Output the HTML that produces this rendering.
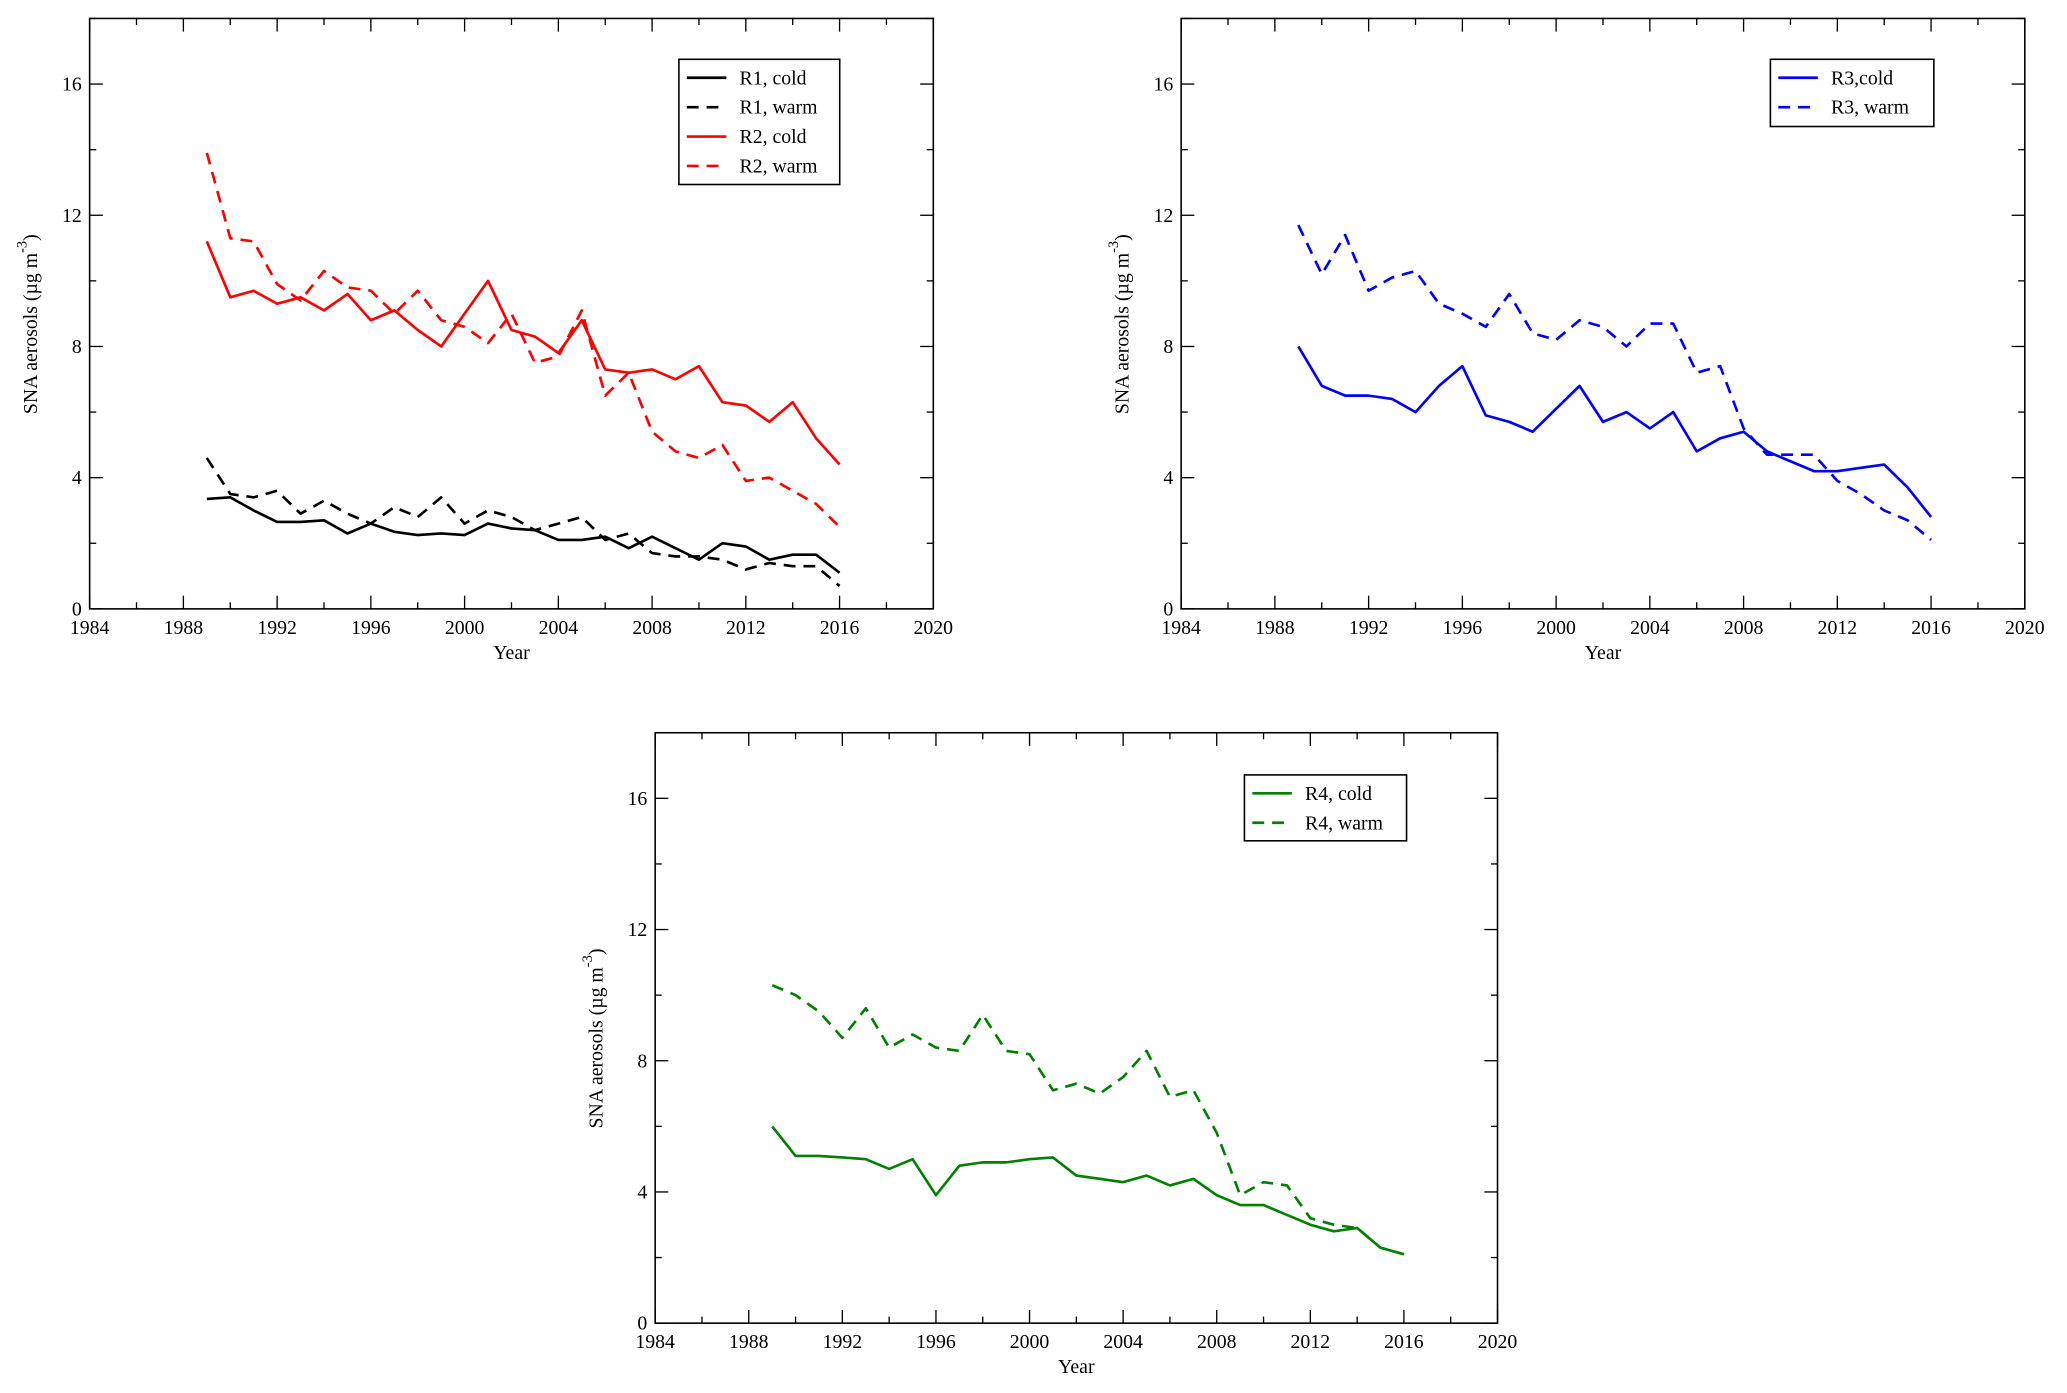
<!DOCTYPE html>
<html><head><meta charset="utf-8">
<style>
html,body{margin:0;padding:0;background:#fff;}
svg{display:block;}
text{font-family:"Liberation Serif",serif;}
</style></head>
<body>
<svg id="chart" width="2067" height="1393" viewBox="0 0 1568 1057" preserveAspectRatio="none" xmlns="http://www.w3.org/2000/svg"></svg>
<script>
const years = [1989,1990,1991,1992,1993,1994,1995,1996,1997,1998,1999,2000,2001,2002,2003,2004,2005,2006,2007,2008,2009,2010,2011,2012,2013,2014,2015,2016];
const r1Cold = [3.35,3.4,3.0,2.65,2.65,2.7,2.3,2.6,2.35,2.25,2.3,2.25,2.6,2.45,2.4,2.1,2.1,2.2,1.85,2.2,1.85,1.5,2.0,1.9,1.5,1.65,1.65,1.1];
const r1Warm = [4.6,3.5,3.4,3.6,2.9,3.3,2.9,2.6,3.1,2.8,3.4,2.6,3.0,2.8,2.4,2.6,2.8,2.1,2.3,1.7,1.6,1.6,1.5,1.2,1.4,1.3,1.3,0.7];
const r2Cold = [11.2,9.5,9.7,9.3,9.5,9.1,9.6,8.8,9.1,8.5,8.0,9.0,10.0,8.5,8.3,7.8,8.8,7.3,7.2,7.3,7.0,7.4,6.3,6.2,5.7,6.3,5.2,4.4];
const r2Warm = [13.9,11.3,11.2,9.9,9.4,10.3,9.8,9.7,9.0,9.7,8.8,8.6,8.1,9.0,7.5,7.7,9.1,6.5,7.2,5.4,4.8,4.6,5.0,3.9,4.0,3.6,3.2,2.5];
const r3Cold = [8.0,6.8,6.5,6.5,6.4,6.0,6.8,7.4,5.9,5.7,5.4,6.1,6.8,5.7,6.0,5.5,6.0,4.8,5.2,5.4,4.8,4.5,4.2,4.2,4.3,4.4,3.7,2.8];
const r3Warm = [11.7,10.2,11.4,9.7,10.1,10.3,9.3,9.0,8.6,9.6,8.4,8.2,8.8,8.6,8.0,8.7,8.7,7.2,7.4,5.5,4.7,4.7,4.7,3.9,3.5,3.0,2.7,2.1];
const r4Cold = [6.0,5.1,5.1,5.05,5.0,4.7,5.0,3.9,4.8,4.9,4.9,5.0,5.05,4.5,4.4,4.3,4.5,4.2,4.4,3.9,3.6,3.6,3.3,3.0,2.8,2.9,2.3,2.1];
const r4Warm = [10.3,10.0,9.5,8.7,9.6,8.4,8.8,8.4,8.3,9.4,8.3,8.2,7.1,7.3,7.0,7.5,8.3,6.9,7.1,5.8,3.9,4.3,4.2,3.2,3.0,2.9,2.3,2.1];
const xTicks = [1984,1988,1992,1996,2000,2004,2008,2012,2016,2020];
const yTicks = [0,4,8,12,16];

const NS = "http://www.w3.org/2000/svg";
const svg = document.getElementById('chart');
function mk(tag, attrs, parent){
  const e = document.createElementNS(NS, tag);
  for (const k in attrs) e.setAttribute(k, attrs[k]);
  (parent||svg).appendChild(e);
  return e;
}

function panel(id, L, R, T, B, series, legend){
  const g = mk('g', {});
  
  
  const bottom = B, top = T;
  const xs = v => L + (v-1984)/(2020-1984)*(R-L);
  const ys = v => bottom - v/18*(bottom-top);
  const frame = mk('rect', {x:L,y:T,width:R-L,height:B-T,fill:'none',stroke:'#000','stroke-width':1.2}, g);
  
  
  // x ticks
  for (let yr=1984; yr<=2020; yr+=2){
    const major = (yr-1984)%4===0;
    const len = major?10:5;
    const x = xs(yr);
    mk('line',{x1:x,y1:B,x2:x,y2:B-len,stroke:'#000','stroke-width':1},g);
    mk('line',{x1:x,y1:T,x2:x,y2:T+len,stroke:'#000','stroke-width':1},g);
  }
  xTicks.forEach(t=>{
    const tx = mk('text',{x:xs(t),y:B+19,'text-anchor':'middle','font-size':15},g);
    tx.textContent = t;
    
    
  });
  for (let v=0; v<=18; v+=2){
    const major = v%4===0;
    const len = major?10:5;
    const y = ys(v);
    mk('line',{x1:L,y1:y,x2:L+len,y2:y,stroke:'#000','stroke-width':1},g);
    mk('line',{x1:R,y1:y,x2:R-len,y2:y,stroke:'#000','stroke-width':1},g);
  }
  yTicks.forEach(t=>{
    const tx = mk('text',{x:L-6,y:ys(t)+5,'text-anchor':'end','font-size':15},g);
    tx.textContent = t;
    
    
  });
  const xt = mk('text',{x:(L+R)/2,y:B+38,'text-anchor':'middle','font-size':15},g);
  xt.textContent = 'Year';
  
  
  const cy = (T+B)/2 + 8;
  const yt = mk('text',{x:0,y:0,'text-anchor':'middle','font-size':15,transform:`translate(${L-40},${cy}) rotate(-90)`},g);
  yt.innerHTML = 'SNA aerosols (\u00b5g m<tspan dy="-8" font-size="11">-3</tspan><tspan dy="8">)</tspan>';
  
  
  series.forEach(s=>{
    const pts = years.map((yr,i)=>xs(yr).toFixed(1)+','+ys(s.data[i]).toFixed(1)).join(' ');
    const pl = mk('polyline',{points:pts,fill:'none',stroke:s.color,'stroke-width':2,'stroke-dasharray':s.dash?'9,6':'none','stroke-linejoin':'round'},g);
    
    
  });
  // legend
  const lg = mk('g',{},g);
  
  
  mk('rect',{x:legend.x,y:legend.y,width:legend.w,height:legend.h,fill:'#fff',stroke:'#000','stroke-width':1.2},lg);
  series.forEach((s,i)=>{
    const ry = legend.y + 14 + i*22.3;
    const e = mk('g',{},lg);
    
    
    mk('line',{x1:legend.x+6,y1:ry,x2:legend.x+36,y2:ry,stroke:s.color,'stroke-width':2,'stroke-dasharray':s.dash?'9,6':'none'},e);
    const t = mk('text',{x:legend.x+46,y:ry+5,'font-size':15},e);
    t.textContent = s.label;
  });
}

panel('panel-r1-r2',68,708,14,462,[
  {name:'r1-cold-line',label:'R1, cold',data:r1Cold,color:'#000',dash:false},
  {name:'r1-warm-line',label:'R1, warm',data:r1Warm,color:'#000',dash:true},
  {name:'r2-cold-line',label:'R2, cold',data:r2Cold,color:'#ff0000',dash:false},
  {name:'r2-warm-line',label:'R2, warm',data:r2Warm,color:'#ff0000',dash:true}
],{x:515,y:45,w:122,h:95});
panel('panel-r3',896,1536,14,462,[
  {name:'r3-cold-line',label:'R3,cold',data:r3Cold,color:'#0000ff',dash:false},
  {name:'r3-warm-line',label:'R3, warm',data:r3Warm,color:'#0000ff',dash:true}
],{x:1343,y:45,w:124,h:51});
panel('panel-r4',497,1136,556,1004,[
  {name:'r4-cold-line',label:'R4, cold',data:r4Cold,color:'#008000',dash:false},
  {name:'r4-warm-line',label:'R4, warm',data:r4Warm,color:'#008000',dash:true}
],{x:944,y:588,w:123,h:50});
</script>
</body></html>
